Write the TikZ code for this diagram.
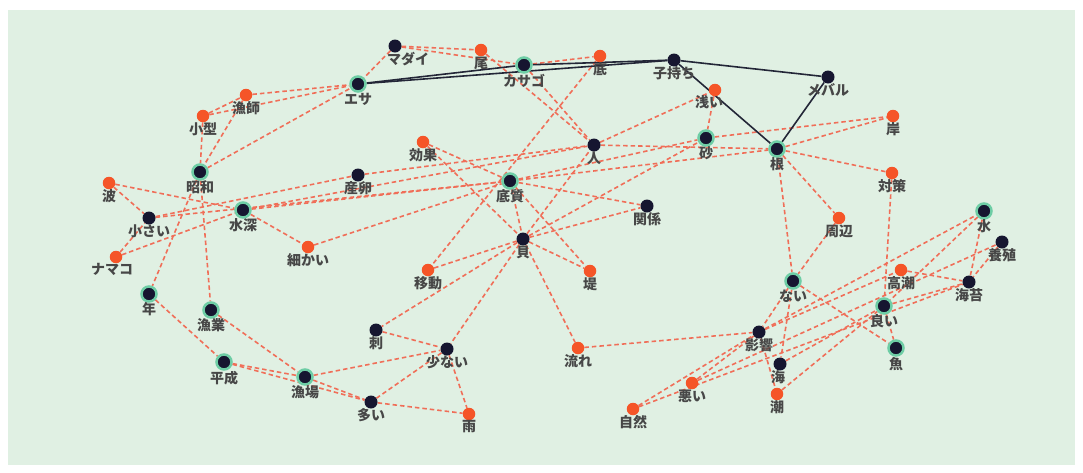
\documentclass[tikz,border=0pt]{standalone}
\usepackage{fontspec}
\setmainfont{Noto Sans CJK JP}
\usetikzlibrary{backgrounds}
\definecolor{bgg}{RGB}{224,240,227}
\definecolor{navy}{RGB}{22,22,48}
\definecolor{mint}{RGB}{110,205,165}
\definecolor{orng}{RGB}{245,85,40}
\definecolor{edg}{RGB}{240,110,88}
\definecolor{solidc}{RGB}{35,38,55}
\begin{document}
\begin{tikzpicture}[x=1pt,y=-1pt,
  lab/.style={font=\fontsize{14}{14}\selectfont\bfseries, text=black!72, inner sep=0pt},
  bk/.style={circle, fill=navy, inner sep=0pt, minimum size=13pt, label distance=5pt},
  br/.style={bk, draw=mint, line width=2.5pt, minimum size=15pt, label distance=4pt},
  og/.style={circle, fill=orng, inner sep=0pt, minimum size=12.5pt, label distance=5pt},
  de/.style={draw=edg, dash pattern=on 4.5pt off 3pt, line width=1.6pt},
  se/.style={draw=solidc, line width=1.6pt}]
\useasboundingbox (0,0) rectangle (1083,472);
% ring nodes
\node[br,label={[lab]below:エサ}] (esa) at (358,84) {};
\node[br,label={[lab]below:カサゴ}] (kasago) at (524,65) {};
\node[br,label={[lab]below:昭和}] (showa) at (200,172) {};
\node[br,label={[lab]below:水深}] (suishin) at (243,210) {};
\node[br,label={[lab]below:底質}] (teishitsu) at (510,181) {};
\node[br,label={[lab]below:砂}] (suna) at (706,138) {};
\node[br,label={[lab]below:根}] (ne) at (777,149) {};
\node[br,label={[lab]below:水}] (mizu) at (984,211) {};
\node[br,label={[lab]below:年}] (nen) at (149,294) {};
\node[br,label={[lab]below:漁業}] (gyogyo) at (211,310) {};
\node[br,label={[lab]below:平成}] (heisei) at (224,362) {};
\node[br,label={[lab]below:漁場}] (gyojo) at (305,377) {};
\node[br,label={[lab]below:ない}] (nai) at (793,281) {};
\node[br,label={[lab]below:良い}] (yoi) at (884,306) {};
\node[br,label={[lab]below:魚}] (sakana) at (896,348) {};
% black nodes
\node[bk,label={[lab,xshift=13pt,yshift=1pt]below:マダイ}] (madai) at (395,46) {};
\node[bk,label={[lab]below:子持ち}] (komochi) at (674,60) {};
\node[bk,label={[lab]below:メバル}] (mebaru) at (828,77) {};
\node[bk,label={[lab]below:人}] (hito) at (594,145) {};
\node[bk,label={[lab]below:産卵}] (sanran) at (358,175) {};
\node[bk,label={[lab]below:小さい}] (chiisai) at (149,218) {};
\node[bk,label={[lab]below:関係}] (kankei) at (647,206) {};
\node[bk,label={[lab]below:貝}] (kai) at (523,239) {};
\node[bk,label={[lab]below:刺}] (sashi) at (376,330) {};
\node[bk,label={[lab]below:少ない}] (sukunai) at (447,349) {};
\node[bk,label={[lab]below:多い}] (ooi) at (371,402) {};
\node[bk,label={[lab]below:影響}] (eikyo) at (759,332) {};
\node[bk,label={[lab,xshift=-2pt]below:海}] (umi) at (780,364) {};
\node[bk,label={[lab]below:海苔}] (nori) at (969,282) {};
\node[bk,label={[lab]below:養殖}] (yoshoku) at (1002,242) {};
% orange nodes
\node[og,label={[lab]below:尾}] (o) at (481,50) {};
\node[og,label={[lab]below:底}] (soko) at (600,56) {};
\node[og,label={[lab]below:漁師}] (ryoshi) at (246,95) {};
\node[og,label={[lab]below:小型}] (kogata) at (203,116) {};
\node[og,label={[lab,xshift=-6pt,yshift=1pt]below:浅い}] (asai) at (715,90) {};
\node[og,label={[lab]below:岸}] (kishi) at (893,116) {};
\node[og,label={[lab]below:効果}] (koka) at (423,142) {};
\node[og,label={[lab]below:対策}] (taisaku) at (892,173) {};
\node[og,label={[lab]below:波}] (nami) at (109,183) {};
\node[og,label={[lab]below:周辺}] (shuhen) at (839,218) {};
\node[og,label={[lab,xshift=-4pt]below:ナマコ}] (namako) at (116,257) {};
\node[og,label={[lab]below:細かい}] (komakai) at (308,247) {};
\node[og,label={[lab]below:移動}] (ido) at (428,270) {};
\node[og,label={[lab]below:堤}] (tsutsumi) at (590,271) {};
\node[og,label={[lab]below:高潮}] (takashio) at (901,270) {};
\node[og,label={[lab]below:流れ}] (nagare) at (578,348) {};
\node[og,label={[lab]below:悪い}] (warui) at (692,383) {};
\node[og,label={[lab]below:潮}] (shio) at (777,394) {};
\node[og,label={[lab]below:自然}] (shizen) at (633,409) {};
\node[og,label={[lab]below:雨}] (ame) at (469,414) {};
\begin{scope}[on background layer]
\fill[white] (0,0) rectangle (1083,472);
\fill[bgg] (8,10) rectangle (1075,465);
\foreach \a/\b in {madai/esa, madai/o, madai/kasago, kasago/soko, o/hito, kasago/hito, soko/ido,
  ryoshi/esa, kogata/esa, kogata/ryoshi, ryoshi/showa, kogata/showa, showa/esa, showa/gyogyo, showa/nen,
  nami/chiisai, nami/suishin, chiisai/sanran, chiisai/teishitsu, namako/chiisai, namako/suishin,
  suishin/komakai, suishin/teishitsu, suishin/hito, komakai/teishitsu, sanran/hito,
  koka/teishitsu, koka/kai, teishitsu/kankei, teishitsu/kai, teishitsu/tsutsumi, teishitsu/suna, teishitsu/ne,
  ido/kai, kai/suna, kai/hito, kai/kankei, kai/tsutsumi, kai/nagare, kai/sukunai, kai/sashi,
  asai/suna, hito/asai, hito/ne, suna/kishi, ne/kishi, ne/taisaku, ne/shuhen, ne/nai, shuhen/nai, taisaku/yoi,
  nen/heisei, heisei/gyojo, gyogyo/gyojo, gyojo/ooi, heisei/ooi, gyojo/sukunai, sashi/sukunai, sukunai/ooi, sukunai/ame, ooi/ame,
  nagare/eikyo, nai/eikyo, nai/sakana, nai/umi, shizen/eikyo, shizen/nori, warui/eikyo, warui/yoshoku,
  eikyo/takashio, eikyo/mizu, umi/yoi, shio/yoi, eikyo/shio, yoi/sakana, takashio/nori, yoi/nori, mizu/nori, mizu/yoi, yoshoku/nori}
  \draw[de] (\a) -- (\b);
\foreach \a/\b in {esa/komochi, esa/kasago, kasago/komochi, komochi/mebaru, komochi/ne, mebaru/ne}
  \draw[se] (\a) -- (\b);
\end{scope}
\end{tikzpicture}
\end{document}
